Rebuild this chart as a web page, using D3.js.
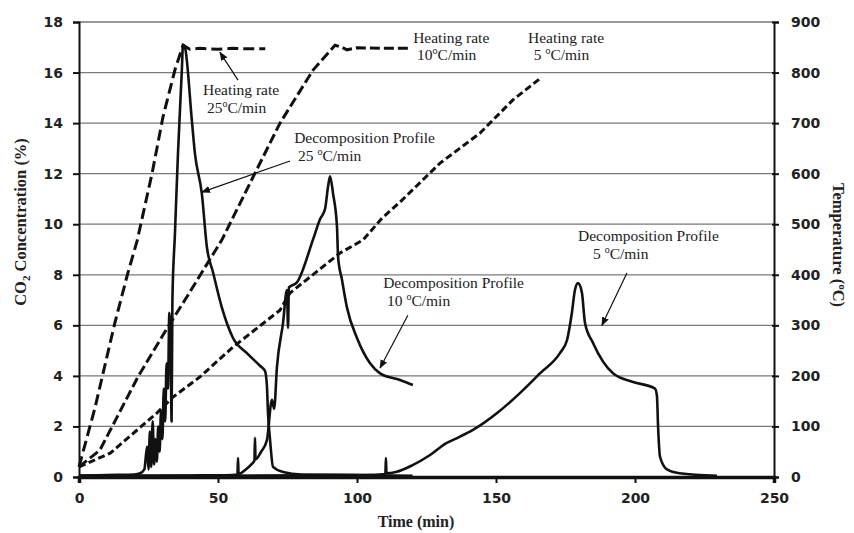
<!DOCTYPE html>
<html><head><meta charset="utf-8">
<script src="https://cdn.jsdelivr.net/npm/d3@7"></script>
<style>body{margin:0;background:#fff}</style>
</head><body><svg id="c" width="854" height="533"></svg>
<script>
// ---- data ----
const xTicks = [0, 50, 100, 150, 200, 250];
const yTicks = [0, 2, 4, 6, 8, 10, 12, 14, 16, 18];
const tTicks = [0, 100, 200, 300, 400, 500, 600, 700, 800, 900];

// heating profiles (temperature, right axis)
const h25Time = [0, 5.8, 12.9, 17.6, 20.9, 26.3, 30.2, 34.5, 37.4, 39.9, 43.5, 50, 55, 60, 67];
const h25Temp = [20, 138, 305, 404, 467, 601, 712, 805, 854, 846, 848, 846, 848, 847, 847];
const h10Time = [0, 7.5, 21.2, 32.0, 38.1, 51.4, 63.3, 72.3, 84.2, 92.1, 94.5, 96.4, 100, 110, 118.5];
const h10Temp = [20, 53, 198, 297, 350, 469, 601, 700, 805, 854, 850, 845, 849, 848, 848];
const h5Time = [0, 11.2, 28.1, 33.8, 43.5, 55.4, 72.3, 75.9, 93.9, 102.2, 109, 115.5, 127.3, 129.9, 144.2, 156.1, 166.5];
const h5Temp = [20, 47, 127, 158, 198, 257, 330, 364, 443, 469, 512, 544, 607, 621, 680, 746, 791];

// decomposition profiles (CO2 %, left axis)
const p25Time = [0, 10, 20, 22, 23.5, 24.5, 25, 25.5, 26, 26.5, 27, 27.5, 28, 28.5, 29, 29.5, 30, 30.5, 31, 31.5, 32, 32.5, 33, 33.3, 33.6, 34.5, 35.6, 37.0, 37.4, 38.1, 40.6, 41.7, 44.2, 46, 48.2, 51.4, 55.4, 60.4, 65.1, 66.9, 67.6, 68, 68.7, 69.8, 73.4, 80, 100, 120];
const p25Conc = [0.05, 0.08, 0.1, 0.15, 0.3, 1.2, 0.3, 1.8, 0.4, 2.2, 0.5, 1.5, 0.6, 2.0, 1.0, 2.6, 1.5, 3.5, 2.2, 4.5, 3.5, 6.5, 5.0, 2.2, 7.0, 9.6, 12.8, 16.1, 17.1, 17.0, 14.1, 12.8, 11.2, 9.1, 8.1, 6.7, 5.5, 4.9, 4.4, 4.2, 3.6, 2.5, 1.5, 0.4, 0.2, 0.1, 0.08, 0.05];
const p10Time = [0, 20, 40, 55, 57, 57.2, 57.4, 60, 62, 63.1, 63.3, 63.5, 65.5, 67.6, 69.4, 70.2, 71.2, 73.4, 74.8, 75.2, 75.5, 78.4, 84.2, 86.7, 88.5, 89.6, 90.3, 91.4, 92.8, 93.2, 94.6, 96.4, 100, 104.7, 108.3, 115.5, 120.1];
const p10Conc = [0.05, 0.05, 0.06, 0.08, 0.1, 0.75, 0.12, 0.3, 0.5, 0.65, 1.55, 0.7, 1.0, 1.46, 3.05, 2.7, 4.35, 6.1, 7.4, 5.9, 7.5, 7.7, 9.4, 10.2, 10.6, 11.5, 11.9, 11.2, 9.9, 8.7, 7.8, 6.7, 5.5, 4.5, 4.1, 3.84, 3.64];
const p5Time = [0, 50, 100, 108, 110.2, 110.4, 110.6, 114, 120, 126.3, 132.3, 136, 141.7, 150.4, 158.6, 165.8, 173, 175.5, 177.3, 178.4, 179.5, 180.9, 182, 184.9, 192.1, 199.3, 207.2, 207.9, 208.3, 209, 211.5, 216, 229.5];
const p5Conc = [0.05, 0.05, 0.08, 0.1, 0.12, 0.75, 0.15, 0.2, 0.47, 0.87, 1.35, 1.54, 1.86, 2.53, 3.32, 4.1, 4.9, 5.4, 6.5, 7.4, 7.67, 7.3, 6.1, 5.3, 4.1, 3.76, 3.5, 3.2, 2.0, 0.8, 0.3, 0.15, 0.05];

// annotations (data units: time, CO2 %)
const noteText = [
  ["Heating rate", "25", "o", "C/min"],
  ["Heating rate", "10", "o", "C/min"],
  ["Heating rate", " 5 ", "o", "C/min"],
  ["Decomposition Profile", "25 ", "o", "C/min"],
  ["Decomposition Profile", "10 ", "o", "C/min"],
  ["Decomposition Profile", "5 ", "o", "C/min"]
];
const noteT1 = [44.6, 120.2, 161.5, 77.4, 109.4, 179.5];
const noteC1 = [15.11, 17.17, 17.17, 13.21, 7.48, 9.33];
const noteT2 = [46.0, 121.6, 162.2, 78.8, 110.8, 184.9];
const noteC2 = [14.40, 16.50, 16.50, 12.50, 6.77, 8.62];
const arrowT0 = [57.2, 75.9, 118.3, 197.1];
const arrowC0 = [15.7, 12.5, 6.4, 8.07];
const arrowT1 = [50.7, 44.2, 108.3, 188.1];
const arrowC1 = [16.8, 11.27, 4.31, 6.0];

// ---- drawing ----
const svg = d3.select("#c");
const x = d3.scaleLinear().domain([0, 250]).range([79, 774]);
const y = d3.scaleLinear().domain([0, 18]).range([477, 22]);
const yT = d3.scaleLinear().domain([0, 900]).range([477, 22]);

svg.append("defs").append("marker").attr("id", "ah").attr("viewBox", "0 0 10 10")
  .attr("refX", 9).attr("refY", 5).attr("markerWidth", 9).attr("markerHeight", 9)
  .attr("markerUnits", "userSpaceOnUse").attr("orient", "auto")
  .append("path").attr("d", "M0,1 L10,5 L0,9 Z").attr("fill", "#111");

// gridlines
svg.append("g").selectAll("line").data(yTicks.filter(d => d > 0)).join("line")
  .attr("x1", x(0)).attr("x2", x(250)).attr("y1", d => y(d)).attr("y2", d => y(d))
  .attr("stroke", d => d === 18 ? "#333" : "#7a7a7a").attr("stroke-width", 1.2);

const zip = (a, b) => a.map((v, i) => [v, b[i]]);
const lineC = d3.line().x(d => x(d[0])).y(d => y(d[1])).curve(d3.curveMonotoneX);
const lineT = d3.line().x(d => x(d[0])).y(d => yT(d[1]));

const heat = [[h25Time, h25Temp, "11,5"], [h10Time, h10Temp, "10,4"], [h5Time, h5Temp, "7,3.5"]];
heat.forEach(h => {
  svg.append("path").attr("d", lineT(zip(h[0], h[1]))).attr("fill", "none")
    .attr("stroke", "#111").attr("stroke-width", 3).attr("stroke-dasharray", h[2]);
});
[[p25Time, p25Conc], [p10Time, p10Conc], [p5Time, p5Conc]].forEach(p => {
  svg.append("path").attr("d", lineC(zip(p[0], p[1]))).attr("fill", "none")
    .attr("stroke", "#111").attr("stroke-width", 2.6).attr("stroke-linejoin", "round");
});

// axes
const tickFont = "DejaVu Sans, sans-serif";
const gx = svg.append("g").attr("transform", `translate(0,${y(0)})`)
  .call(d3.axisBottom(x).tickValues(xTicks).tickSize(6).tickPadding(10));
const gy = svg.append("g").attr("transform", `translate(${x(0)},0)`)
  .call(d3.axisLeft(y).tickValues(yTicks).tickSize(6).tickPadding(10));
const gr = svg.append("g").attr("transform", `translate(${x(250)},0)`)
  .call(d3.axisRight(yT).tickValues(tTicks).tickSize(5).tickPadding(12));
[gx, gy, gr].forEach(g => {
  g.select(".domain").attr("stroke", "#111").attr("stroke-width", 2);
  g.selectAll(".tick line").attr("stroke", "#111").attr("stroke-width", 2);
  g.selectAll("text").attr("font-family", tickFont).attr("font-weight", "bold")
    .attr("font-size", 14).attr("fill", "#222");
});
gx.select(".domain").attr("stroke-width", 3.5);
gr.selectAll(".tick line").attr("x1", -2);

// axis titles
const serif = "Liberation Serif, Times New Roman, serif";
svg.append("text").attr("x", 416).attr("y", 527).attr("text-anchor", "middle")
  .attr("font-family", serif).attr("font-weight", "bold").attr("font-size", 16).attr("fill", "#222")
  .text("Time (min)");
const lt = svg.append("text").attr("transform", "translate(26,222) rotate(-90)")
  .attr("text-anchor", "middle").attr("font-family", serif).attr("font-weight", "bold")
  .attr("font-size", 16.5).attr("fill", "#222");
lt.append("tspan").text("CO");
lt.append("tspan").attr("font-size", 11).attr("dy", 4).text("2");
lt.append("tspan").attr("dy", -4).text(" Concentration (%)");
const rt = svg.append("text").attr("transform", "translate(833,245) rotate(90)")
  .attr("text-anchor", "middle").attr("font-family", serif).attr("font-weight", "bold")
  .attr("font-size", 16.5).attr("fill", "#222");
rt.append("tspan").text("Temperature (");
rt.append("tspan").attr("font-size", 11).attr("dy", -6).text("o");
rt.append("tspan").attr("dy", 6).text("C)");

// annotations
noteText.forEach((n, i) => {
  const g = svg.append("g").attr("font-family", serif).attr("font-size", 15.5).attr("fill", "#222");
  g.append("text").attr("x", x(noteT1[i])).attr("y", y(noteC1[i])).text(n[0]);
  const t2 = g.append("text").attr("x", x(noteT2[i])).attr("y", y(noteC2[i])).attr("xml:space", "preserve");
  t2.append("tspan").text(n[1]);
  t2.append("tspan").attr("font-size", 10).attr("dy", -6).text(n[2]);
  t2.append("tspan").attr("dy", 6).text(n[3]);
});
arrowT0.forEach((t, i) => {
  svg.append("line").attr("x1", x(t)).attr("y1", y(arrowC0[i]))
    .attr("x2", x(arrowT1[i])).attr("y2", y(arrowC1[i]))
    .attr("stroke", "#111").attr("stroke-width", 1.2).attr("marker-end", "url(#ah)");
});
</script></body></html>
